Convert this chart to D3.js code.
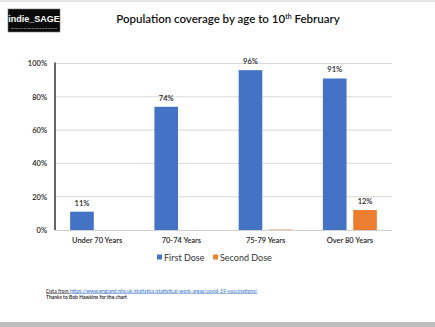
<!DOCTYPE html>
<html><head><meta charset="utf-8">
<script src="https://cdn.jsdelivr.net/npm/d3@7"></script>
<style>
html,body{margin:0;padding:0;background:#fff;}
svg{display:block;}
</style></head>
<body>
<svg id="c" width="435" height="327"></svg>
<script>
const categories = ["Under 70 Years", "70-74 Years", "75-79 Years", "Over 80 Years"];
const firstDose = [11, 74, 96, 91];
const secondDose = [0, 0, 0.4, 12];
const seriesNames = ["First Dose", "Second Dose"];
const yTicks = [0, 20, 40, 60, 80, 100];
const colors = ["#4472C4", "#ED7D31"];

const svg = d3.select("#c");
const font = "Lato, 'Open Sans', sans-serif";

// top/bottom frame shading
svg.append("rect").attr("x",0).attr("y",0).attr("width",435).attr("height",2).attr("fill","#e6e6e6");
svg.append("rect").attr("x",0).attr("y",322).attr("width",435).attr("height",5).attr("fill","#bdbdbd");

// logo
svg.append("rect").attr("x",8).attr("y",9).attr("width",52).attr("height",23).attr("fill","#0a0a0a").attr("stroke","#777").attr("stroke-width",0.6);
svg.append("text").attr("x",34).attr("y",22).attr("text-anchor","middle").attr("fill","#fff")
  .attr("font-family","'Liberation Sans', Arial, sans-serif").attr("font-weight","bold").attr("font-size",9).text("indie_SAGE");
svg.append("line").attr("x1",11).attr("x2",57).attr("y1",28.5).attr("y2",28.5).attr("stroke","#888").attr("stroke-width",0.8).attr("stroke-dasharray","2,0.6");

// title
const title = svg.append("text").attr("x",228).attr("y",23).attr("text-anchor","middle")
  .attr("font-family",font).attr("font-size",11.5).attr("font-weight","600").attr("fill","#111");
title.append("tspan").text("Population coverage by age to 10");
title.append("tspan").attr("dy",-4).attr("font-size",7).text("th");
title.append("tspan").attr("dy",4).text(" February");

const m = {left:55, right:392, top:63.5, bottom:230};
const x = d3.scaleBand().domain(categories).range([m.left, m.right]);
const y = d3.scaleLinear().domain([0,100]).range([m.bottom, m.top]);
const xs = d3.scaleBand().domain(seriesNames).range([0, x.bandwidth()]).paddingInner(0.22).paddingOuter(0.5);

// grid
svg.append("g").selectAll("line").data(yTicks.filter(d=>d>0)).join("line")
  .attr("x1",m.left).attr("x2",m.right).attr("y1",d=>y(d)).attr("y2",d=>y(d))
  .attr("stroke","#d9d9d9").attr("stroke-width",1);

// y axis
const yAxis = svg.append("g").attr("transform",`translate(${m.left},0)`)
  .call(d3.axisLeft(y).tickValues(yTicks).tickFormat(d=>d+"%").tickSize(0).tickPadding(8));
yAxis.select(".domain").remove();
yAxis.selectAll("text").attr("font-family",font).attr("font-size",7.5).attr("fill","#222").attr("font-weight","600");
svg.append("line").attr("x1",m.left).attr("x2",m.left).attr("y1",m.top-1).attr("y2",m.bottom)
  .attr("stroke","#666").attr("stroke-width",2);

// bottom axis line
svg.append("line").attr("x1",m.left).attr("x2",m.right).attr("y1",m.bottom+0.5).attr("y2",m.bottom+0.5)
  .attr("stroke","#d0d0d0").attr("stroke-width",1);

// x axis labels
const xAxis = svg.append("g").attr("transform",`translate(0,${m.bottom})`)
  .call(d3.axisBottom(x).tickSize(0).tickPadding(8));
xAxis.select(".domain").remove();
xAxis.selectAll("text").attr("font-family",font).attr("font-size",7.5).attr("fill","#222").attr("font-weight","600");

// bars
const data = categories.map((c,i)=>({cat:c, vals:[firstDose[i], secondDose[i]]}));
const groups = svg.append("g").selectAll("g").data(data).join("g")
  .attr("transform",d=>`translate(${x(d.cat)},0)`);
groups.selectAll("rect").data(d=>d.vals.map((v,j)=>({v, s:seriesNames[j], j}))).join("rect")
  .attr("x",d=>xs(d.s)).attr("width",xs.bandwidth())
  .attr("y",d=>y(d.v)).attr("height",d=>y(0)-y(d.v))
  .attr("fill",d=>colors[d.j]).attr("fill-opacity",d=>d.v<1?0.6:1);
groups.selectAll("text").data(d=>d.vals.map((v,j)=>({v, s:seriesNames[j], j})).filter(d=>d.v>=1)).join("text")
  .attr("x",d=>xs(d.s)+xs.bandwidth()/2).attr("y",d=>y(d.v)-6)
  .attr("text-anchor","middle").attr("font-family",font).attr("font-size",7.5).attr("fill","#222").attr("font-weight","600")
  .text(d=>Math.round(d.v)+"%");

// legend
const legend = svg.append("g").attr("transform","translate(157,258)");
const lx = [0, 56];
seriesNames.forEach((s,i)=>{
  legend.append("rect").attr("x",lx[i]).attr("y",-3.5).attr("width",5).attr("height",5).attr("fill",colors[i]);
  legend.append("text").attr("x",lx[i]+7).attr("y",3).attr("font-family",font).attr("font-size",9).attr("fill","#333").text(s);
});

// footer
const f1 = svg.append("text").attr("x",46).attr("y",292.5).attr("font-family",font).attr("font-size",5.1).attr("fill","#222");
f1.append("tspan").attr("text-decoration","underline").text("Data from ");
f1.append("tspan").attr("fill","#2f6fc9").attr("text-decoration","underline").text("https://www.england.nhs.uk/statistics/statistical-work-areas/covid-19-vaccinations/");
svg.append("text").attr("x",46).attr("y",298.5).attr("font-family",font).attr("font-size",5).attr("fill","#111").attr("font-weight","600").text("Thanks to Bob Hawkins for the chart");
</script>
</body></html>
